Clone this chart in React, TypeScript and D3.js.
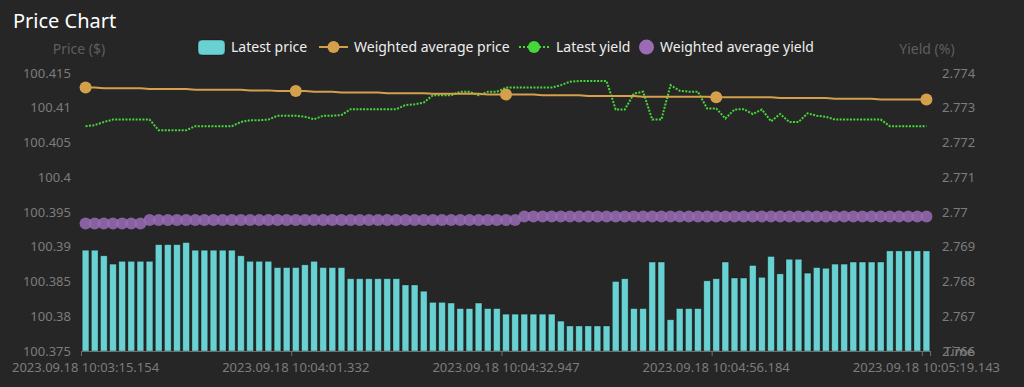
import React from 'react';
import * as d3 from 'd3';

// latest traded price per tick (left axis)
const latestPrice = [
  100.3895, 100.3895, 100.3887, 100.3875, 100.3879, 100.3879, 100.3879, 100.3879,
  100.3903, 100.3903, 100.3903, 100.3906, 100.3895, 100.3895, 100.3895, 100.3895,
  100.3895, 100.3887, 100.3879, 100.3879, 100.3879, 100.387, 100.387, 100.387,
  100.3874, 100.3879, 100.387, 100.387, 100.387, 100.3854, 100.3854, 100.3854,
  100.3854, 100.3854, 100.3854, 100.3845, 100.3845, 100.3836, 100.382, 100.382,
  100.3819, 100.3811, 100.3811, 100.3819, 100.3811, 100.3811, 100.3803, 100.3803,
  100.3803, 100.3803, 100.3803, 100.3803, 100.3793, 100.3786, 100.3786, 100.3786,
  100.3786, 100.3786, 100.385, 100.3854, 100.3811, 100.3811, 100.3878, 100.3878,
  100.3795, 100.3811, 100.3811, 100.3811, 100.3851, 100.3854, 100.3878, 100.3855,
  100.3855, 100.3873, 100.3856, 100.3886, 100.3861, 100.3882, 100.3882, 100.3862,
  100.387, 100.3869, 100.3875, 100.3875, 100.3878, 100.3878, 100.3878, 100.3878,
  100.3894, 100.3894, 100.3894, 100.3894, 100.3894,
];

const weightedPrice = [
  100.4129, 100.4129, 100.4128, 100.4128, 100.4128, 100.4128, 100.4128, 100.4127,
  100.4127, 100.4127, 100.4127, 100.4127, 100.4126, 100.4126, 100.4126, 100.4126,
  100.4126, 100.4126, 100.4125, 100.4125, 100.4125, 100.4124, 100.4124, 100.4124,
  100.4124, 100.4123, 100.4123, 100.4123, 100.4122, 100.4122, 100.4122, 100.4122,
  100.4122, 100.4121, 100.4121, 100.4121, 100.4121, 100.4121, 100.412, 100.412,
  100.412, 100.412, 100.412, 100.412, 100.4119, 100.4119, 100.4119, 100.4119,
  100.4119, 100.4119, 100.4118, 100.4118, 100.4118, 100.4118, 100.4118, 100.4117,
  100.4117, 100.4117, 100.4117, 100.4117, 100.4117, 100.4116, 100.4116, 100.4116,
  100.4116, 100.4116, 100.4116, 100.4116, 100.4116, 100.4115, 100.4115, 100.4115,
  100.4115, 100.4115, 100.4115, 100.4115, 100.4114, 100.4114, 100.4114, 100.4114,
  100.4114, 100.4114, 100.4113, 100.4113, 100.4113, 100.4113, 100.4113, 100.4112,
  100.4112, 100.4112, 100.4112, 100.4112, 100.4112,
];

// yields (right axis)
const latestYield = [
  2.77247, 2.7725, 2.77259, 2.77266, 2.77266, 2.77266, 2.77266, 2.77266,
  2.77235, 2.77235, 2.77235, 2.77235, 2.77247, 2.77247, 2.77247, 2.77247,
  2.77247, 2.77259, 2.77264, 2.77264, 2.77266, 2.77277, 2.77277, 2.77277,
  2.77274, 2.77267, 2.77277, 2.77277, 2.77279, 2.77296, 2.77296, 2.77296,
  2.77296, 2.77296, 2.77296, 2.77308, 2.7731, 2.77315, 2.77336, 2.77336,
  2.77336, 2.77346, 2.77346, 2.77336, 2.77346, 2.77346, 2.77358, 2.77358,
  2.77358, 2.77358, 2.77358, 2.77358, 2.77365, 2.77375, 2.77377, 2.77377,
  2.77377, 2.77377, 2.77295, 2.77295, 2.77341, 2.77346, 2.77266, 2.77266,
  2.77365, 2.77349, 2.77346, 2.77346, 2.77298, 2.77298, 2.77269, 2.77295,
  2.77296, 2.77282, 2.77295, 2.77261, 2.77282, 2.77259, 2.77259, 2.77284,
  2.77277, 2.77274, 2.77266, 2.77266, 2.77266, 2.77266, 2.77266, 2.77266,
  2.77247, 2.77247, 2.77247, 2.77247, 2.77247,
];

const weightedYield = [
  2.76967, 2.76967, 2.76967, 2.76967, 2.76967, 2.76967, 2.76967, 2.76977,
  2.76977, 2.76977, 2.76977, 2.76977, 2.76977, 2.76977, 2.76977, 2.76977,
  2.76977, 2.76977, 2.76977, 2.76977, 2.76977, 2.76977, 2.76977, 2.76977,
  2.76977, 2.76977, 2.76977, 2.76977, 2.76977, 2.76977, 2.76977, 2.76977,
  2.76977, 2.76977, 2.76977, 2.76977, 2.76977, 2.76977, 2.76977, 2.76977,
  2.76977, 2.76977, 2.76977, 2.76977, 2.76977, 2.76977, 2.76977, 2.76977,
  2.76987, 2.76987, 2.76987, 2.76987, 2.76987, 2.76987, 2.76987, 2.76987,
  2.76987, 2.76987, 2.76987, 2.76987, 2.76987, 2.76987, 2.76987, 2.76987,
  2.76987, 2.76987, 2.76987, 2.76987, 2.76987, 2.76987, 2.76987, 2.76987,
  2.76987, 2.76987, 2.76987, 2.76987, 2.76987, 2.76987, 2.76987, 2.76987,
  2.76987, 2.76987, 2.76987, 2.76987, 2.76987, 2.76987, 2.76987, 2.76987,
  2.76987, 2.76987, 2.76987, 2.76987, 2.76987,
];

// category labels shown on the time axis (index -> label)
const timeLabelIndex = [0, 23, 46, 69, 92];
const timeLabels = [
  '2023.09.18 10:03:15.154',
  '2023.09.18 10:04:01.332',
  '2023.09.18 10:04:32.947',
  '2023.09.18 10:04:56.184',
  '2023.09.18 10:05:19.143',
];

const priceTicks = [100.375, 100.38, 100.385, 100.39, 100.395, 100.4, 100.405, 100.41, 100.415];
const yieldTicks = [2.766, 2.767, 2.768, 2.769, 2.77, 2.771, 2.772, 2.773, 2.774];

const W = 1024;
const H = 387;
const FONT = '"Noto Sans", sans-serif';
const BG = '#262626';
const TEAL = '#69d1d1';
const ORANGE = '#d4a04c';
const GREEN = '#45d838';
const PURPLE = '#9a6cb6';
const AXIS_TXT = '#7c7c7c';
const NAME_TXT = '#5e5e5e';

export default function App() {
  const left = 81;
  const right = 931;
  const top = 73;
  const bottom = 351;

  const idx = latestPrice.map((_, i) => i);
  const x = d3.scaleBand<number>().domain(idx).range([left, right]).padding(0);
  const bw = x.bandwidth();
  const cx = (i: number) => (x(i) as number) + bw / 2;

  const yL = d3.scaleLinear().domain([100.375, 100.415]).range([bottom, top]);
  const yR = d3.scaleLinear().domain([2.766, 2.774]).range([bottom, top]);

  const priceLine = d3
    .line<number>()
    .x((_, i) => cx(i))
    .y((d) => yL(d));
  const yieldLine = d3
    .line<number>()
    .x((_, i) => cx(i))
    .y((d) => yR(d));

  const fmt = (v: number) => String(+v.toFixed(3));
  const barW = bw * 0.73;

  return (
    <div style={{ position: 'absolute', left: 0, top: 0 }}>
      <svg width={W} height={H} style={{ display: 'block', background: BG }} fontFamily={FONT}>
        <rect width={W} height={H} fill={BG} />
        <text x={13} y={28} fill="#ffffff" fontSize={20}>
          Price Chart
        </text>

        {/* legend */}
        <g fontSize={14} fill="#eeeeee">
          <rect x={198} y={40} width={27} height={15} rx={4} fill={TEAL} stroke="rgba(0,0,0,0.35)" />
          <text x={231} y={52}>Latest price</text>
          <line x1={319} x2={348} y1={47} y2={47} stroke={ORANGE} strokeWidth={2} />
          <circle cx={333.5} cy={47} r={6} fill={ORANGE} />
          <text x={354} y={52}>Weighted average price</text>
          <line x1={519} x2={549} y1={47} y2={47} stroke={GREEN} strokeWidth={2} strokeDasharray="2 2" />
          <circle cx={534} cy={47} r={6} fill={GREEN} />
          <text x={556} y={52}>Latest yield</text>
          <circle cx={646.5} cy={47} r={7.5} fill={PURPLE} />
          <text x={660} y={52}>Weighted average yield</text>
        </g>

        {/* axis names */}
        <text x={79} y={54} fill={NAME_TXT} fontSize={14} textAnchor="middle">
          Price ($)
        </text>
        <text x={927} y={54} fill={NAME_TXT} fontSize={14} textAnchor="middle">
          Yield (%)
        </text>

        {/* left ticks */}
        <g fontSize={13} fill={AXIS_TXT} textAnchor="end">
          {priceTicks.map((t) => (
            <text key={t} x={71} y={yL(t)} dy="0.35em">
              {fmt(t)}
            </text>
          ))}
        </g>
        {/* right ticks */}
        <g fontSize={13} fill={AXIS_TXT} textAnchor="start">
          {yieldTicks.map((t) => (
            <text key={t} x={942} y={yR(t)} dy="0.35em">
              {fmt(t)}
            </text>
          ))}
          <text x={944} y={bottom} dy="0.35em">
            Time
          </text>
        </g>

        {/* bars */}
        <g>
          {latestPrice.map((v, i) => (
            <rect
              key={i}
              x={cx(i) - barW / 2}
              y={yL(v)}
              width={barW}
              height={bottom - yL(v)}
              fill={TEAL}
              stroke="rgba(0,0,0,0.35)"
              strokeWidth={0.8}
            />
          ))}
        </g>

        {/* x axis */}
        <line x1={left} x2={right} y1={bottom + 0.5} y2={bottom + 0.5} stroke="#6e6e6e" />
        {timeLabelIndex.map((i) => (
          <line
            key={'t' + i}
            x1={(x(i) as number) + 0.5}
            x2={(x(i) as number) + 0.5}
            y1={bottom}
            y2={bottom + 5}
            stroke="#6e6e6e"
          />
        ))}
        <line x1={right - 0.5} x2={right - 0.5} y1={bottom} y2={bottom + 5} stroke="#6e6e6e" />
        <g fontSize={13} fill={AXIS_TXT} textAnchor="middle">
          {timeLabelIndex.map((i, k) => (
            <text key={i} x={cx(i)} y={372}>
              {timeLabels[k]}
            </text>
          ))}
        </g>

        {/* weighted average yield scatter */}
        <g>
          {weightedYield.map((v, i) => (
            <circle key={i} cx={cx(i)} cy={yR(v)} r={6} fill={PURPLE} opacity={0.85} />
          ))}
        </g>

        {/* latest yield dotted line */}
        <path d={yieldLine(latestYield) || ''} fill="none" stroke={GREEN} strokeWidth={2} strokeDasharray="2 1.4" />

        {/* weighted average price */}
        <path d={priceLine(weightedPrice) || ''} fill="none" stroke={ORANGE} strokeWidth={2} />
        {timeLabelIndex.map((i) => (
          <circle key={'p' + i} cx={cx(i)} cy={yL(weightedPrice[i])} r={6} fill={ORANGE} />
        ))}
      </svg>
    </div>
  );
}
